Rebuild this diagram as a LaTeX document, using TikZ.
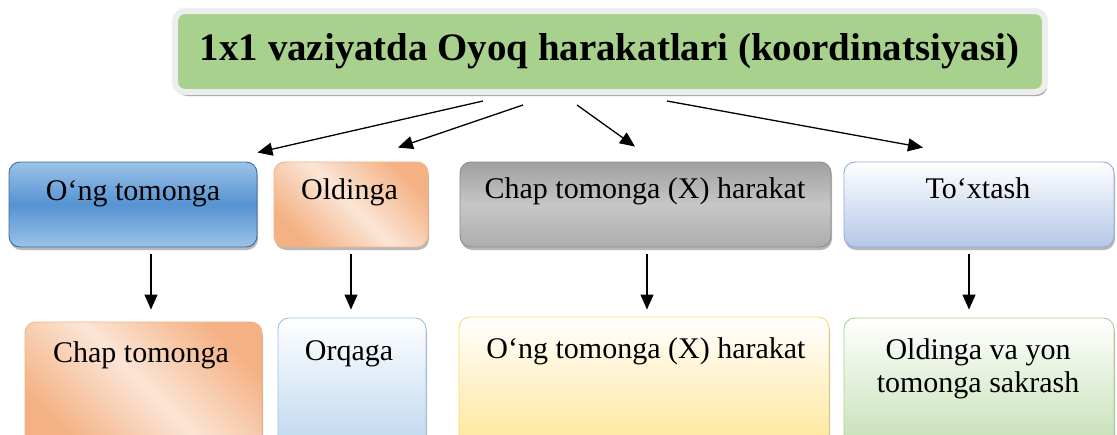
\documentclass[tikz,border=0pt]{standalone}
\usepackage{fontspec}
\setmainfont{Liberation Serif}
\usetikzlibrary{shadows,arrows.meta,calc}
\definecolor{titlegreen}{HTML}{A9D18E}
\definecolor{blueL}{HTML}{9CC2E8}
\definecolor{blueM}{HTML}{5593D2}
\definecolor{blueB}{HTML}{3B6C9E}
\definecolor{orD}{HTML}{F4B183}
\definecolor{orL}{HTML}{FBE5D6}
\definecolor{orB}{HTML}{F4B183}
\definecolor{grT}{HTML}{A0A0A0}
\definecolor{grM}{HTML}{C6C6C6}
\definecolor{grBot}{HTML}{ADADAD}
\definecolor{grB}{HTML}{8C8C8C}
\definecolor{lbBot}{HTML}{B4C7E7}
\definecolor{lbB}{HTML}{8FAADC}
\definecolor{skyBot}{HTML}{BDD7EE}
\definecolor{skyB}{HTML}{9DC3E6}
\definecolor{yeBot}{HTML}{FFE699}
\definecolor{yeB}{HTML}{FFD966}
\definecolor{gnBot}{HTML}{C5E0B4}
\definecolor{gnB}{HTML}{A9D18E}
\begin{document}
\begin{tikzpicture}[x=1pt,y=-1pt,
  box/.style={rectangle, rounded corners=11pt, line width=0.9pt, inner sep=0pt,
    drop shadow={shadow xshift=1pt, shadow yshift=-3pt, opacity=0.4, fill=black!70}},
  lbl/.style={anchor=base, inner sep=0pt, font=\fontsize{30}{33}\selectfont},
  arr/.style={line width=1.3pt, -{Triangle[length=15pt,width=13pt]}},
  bluebox/.style={box, draw=blueB, top color=blueL, bottom color=blueL, middle color=blueM},
  orbox/.style={box, draw=orB, top color=orD, bottom color=orD, middle color=orL, shading angle=135},
  graybox/.style={box, draw=grB, top color=grT, bottom color=grBot, middle color=grM},
  lbbox/.style={box, draw=lbB, top color=white, bottom color=lbBot},
  skybox/.style={box, draw=skyB, top color=white, bottom color=skyBot},
  yebox/.style={box, draw=yeB, top color=white, bottom color=yeBot},
  gnbox/.style={box, draw=gnB, top color=white, bottom color=gnBot},
]
\path[use as bounding box, clip] (0,0) rectangle (1117,434);

% title
\node[rectangle, rounded corners=10pt, draw=white!93!black, line width=6pt, fill=titlegreen,
  minimum width=870pt, minimum height=81pt, inner sep=0pt,
  drop shadow={shadow xshift=2pt, shadow yshift=-4pt, opacity=0.55, fill=black!65}] (title) at (610,51.5) {};
\node[anchor=base, inner sep=0pt, font=\bfseries\fontsize{38.9}{42}\selectfont] (titletext) at (609.5,60)
  {1x1 vaziyatda Oyoq harakatlari (koordinatsiyasi)};

% row 1
\node[bluebox, minimum width=248pt, minimum height=85pt] (B1) at (133,204.5) {};
\node[orbox, minimum width=154pt, minimum height=85pt] (B2) at (351,204.5) {};
\node[graybox, minimum width=371pt, minimum height=85pt] (B3) at (645.5,204.5) {};
\node[lbbox, minimum width=270pt, minimum height=85pt] (B4) at (979,204.5) {};

% row 2
\node[orbox, minimum width=237pt, minimum height=126pt] (C1) at (143.5,385) {};
\node[skybox, minimum width=148pt, minimum height=130pt] (C2) at (352,383) {};
\node[yebox, minimum width=370pt, minimum height=131pt] (C3) at (644,382.5) {};
\node[gnbox, minimum width=270pt, minimum height=130pt] (C4) at (979,383) {};

% labels
\node[lbl] (t1) at (133,200) {O‘ng tomonga};
\node[lbl] (t2) at (349.5,199) {Oldinga};
\node[lbl] (t3) at (645,198) {Chap tomonga (X) harakat};
\node[lbl] (t4) at (978,198) {To‘xtash};
\node[lbl] (u1) at (141,362) {Chap tomonga};
\node[lbl] (u2) at (349,360) {Orqaga};
\node[lbl] (u3) at (646,358) {O‘ng tomonga (X) harakat};
\node[lbl] (u4a) at (978,359) {Oldinga va yon};
\node[lbl] (u4b) at (978,392) {tomonga sakrash};

% arrows from title
\draw[arr] ([xshift=-127pt,yshift=-6pt]title.south) -- ([yshift=9pt]B1.north east);
\draw[arr] ([xshift=-87pt,yshift=-10pt]title.south) -- ([xshift=47pt,yshift=14pt]B2.north);
\draw[arr] ([xshift=-33pt,yshift=-10pt]title.south) -- ([xshift=-10.5pt,yshift=15pt]B3.north);
\draw[arr] ([xshift=57pt,yshift=-6pt]title.south) -- ([xshift=-56pt,yshift=14pt]B4.north);

% vertical arrows
\draw[arr] ([xshift=18pt,yshift=-7pt]B1.south) -- ([xshift=7.5pt,yshift=12pt]C1.north);
\draw[arr] ([yshift=-7pt]B2.south) -- ([xshift=-1pt,yshift=8pt]C2.north);
\draw[arr] ([xshift=1.5pt,yshift=-7pt]B3.south) -- ([xshift=3pt,yshift=7pt]C3.north);
\draw[arr] ([xshift=-10pt,yshift=-7pt]B4.south) -- ([xshift=-10pt,yshift=8pt]C4.north);
\end{tikzpicture}
\end{document}
